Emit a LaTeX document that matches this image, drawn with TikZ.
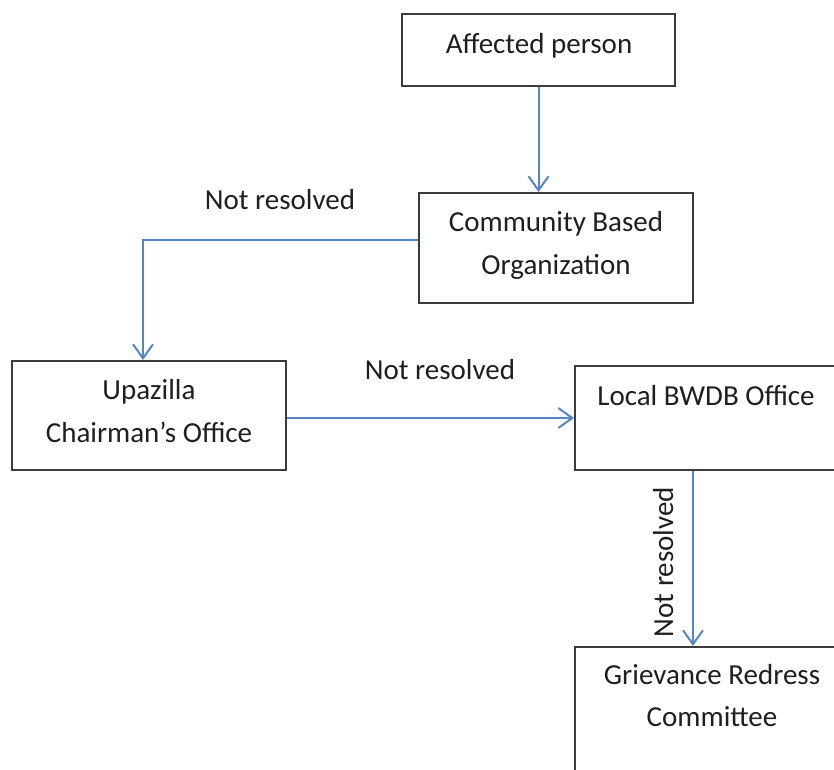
\documentclass[tikz,border=0pt]{standalone}
\usepackage{fontspec}
\setmainfont{Carlito}
\usetikzlibrary{arrows.meta}
\definecolor{arrowblue}{RGB}{84,134,194}
\definecolor{boxgray}{RGB}{60,60,60}
\begin{document}
\begin{tikzpicture}[x=1pt,y=-1pt,
  box/.style={draw=boxgray, line width=2pt, minimum width=274pt, inner sep=0pt},
  txt/.style={font=\fontsize{29}{43}\selectfont, anchor=base, inner sep=0pt, text=black!88},
  flow/.style={draw=arrowblue, line width=2pt, -{Straight Barb[length=14pt,width=20pt]}}]
\useasboundingbox (0,0) rectangle (834,769);
\clip (0,0) rectangle (834,769);
\fill[white] (0,0) rectangle (834,769);
% boxes
\node[box, minimum width=273pt, minimum height=72pt] (ap) at (538.5,50) {};
\node[box, minimum height=110pt] (cbo) at (556,248) {};
\node[box, minimum height=109pt] (up) at (149,415.5) {};
\node[box, minimum height=104pt] (bw) at (712,418) {};
\node[box, minimum height=140pt] (grc) at (712,717) {};
% texts
\node[txt] (tap) at (539,53) {Affected person};
\node[txt] (tcbo1) at (556,231) {Community Based};
\node[txt] (tcbo2) at (556,274) {Organization};
\node[txt] (tup1) at (149,399) {Upazilla};
\node[txt] (tup2) at (149,442) {Chairman’s Office};
\node[txt] (tbw) at (706,405) {Local BWDB Office};
\node[txt] (tgrc1) at (712,684) {Grievance Redress};
\node[txt] (tgrc2) at (712,726) {Committee};
% labels
\node[txt] (l1) at (280,209) {Not resolved};
\node[txt] (l2) at (440,379) {Not resolved};
\node[txt, rotate=90] (l3) at (673,562) {Not resolved};
% connectors
\coordinate (c1) at (143,240);
\draw[flow] (ap.south) -- (ap.south |- cbo.north);
\draw[flow] (cbo.west |- c1) -- (c1) -- (c1 |- up.north);
\draw[flow] (up.east |- 0,418) -- (bw.west |- 0,418);
\draw[flow] (bw.south -| 693,0) -- (grc.north -| 693,0);
\end{tikzpicture}
\end{document}
